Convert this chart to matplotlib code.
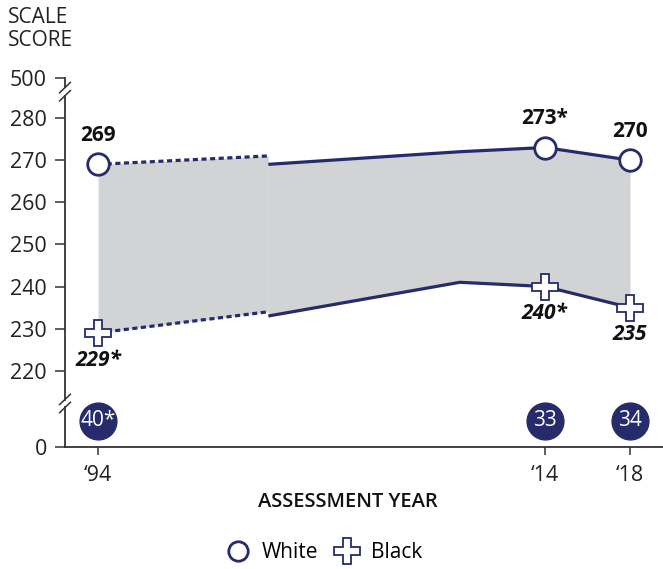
import numpy as np
import matplotlib
matplotlib.use("Agg")
import matplotlib.pyplot as plt
from matplotlib.lines import Line2D

plt.rcParams["font.family"] = ["Open Sans", "DejaVu Sans"]

# scores, accommodations not permitted (dashed part)
years_na = [1994, 2001]
white_na = [269, 271]
black_na = [229, 234]

# scores, accommodations permitted (solid part)
years = [2001, 2010, 2014, 2018]
white = [269, 272, 273, 270]
black = [233, 241, 240, 235]

# years that get markers and labels
mark_years = [1994, 2014, 2018]
white_marked = [269, 273, 270]
black_marked = [229, 240, 235]
white_labels = ["269", "273*", "270"]
black_labels = ["229*", "240*", "235"]
gaps = ["40*", "33", "34"]

x_ticks = [1994, 2014, 2018]
x_ticklabels = ["\u201894", "\u201814", "\u201818"]
y_ticks = [0, 220, 230, 240, 250, 260, 270, 280, 500]

NAVY = "#262B6B"
GRAY = "#D1D3D4"


# x axis: 1994-2001 stretched a bit wider than the later years
def x_fwd(v):
    v = np.asarray(v, dtype=float)
    return np.where(v < 2001, 2001 + (v - 2001) * 1.1435, v)


def x_inv(v):
    v = np.asarray(v, dtype=float)
    return np.where(v < 2001, 2001 + (v - 2001) / 1.1435, v)


# y axis: broken, 0-220 and 280-500 squeezed
def y_fwd(v):
    v = np.asarray(v, dtype=float)
    return np.where(v > 280, 280 + (v - 280) * 9.5 / 220,
                    np.where(v < 220, 220 - (220 - v) * 18.1 / 220, v))


def y_inv(v):
    v = np.asarray(v, dtype=float)
    return np.where(v > 280, 280 + (v - 280) * 220 / 9.5,
                    np.where(v < 220, 220 - (220 - v) * 220 / 18.1, v))


fig = plt.figure(figsize=(6.63, 5.69), dpi=100)
ax = fig.add_axes([65 / 663, 122 / 569, 598 / 663, 369 / 569])
ax.set_xscale("function", functions=(x_fwd, x_inv))
ax.set_yscale("function", functions=(y_fwd, y_inv))
ax.set_xlim(1992.64, 2019.55)
ax.set_ylim(0, 500)

ax.fill_between(years_na, white_na, black_na, color=GRAY, lw=0)
ax.fill_between(years, white, black, color=GRAY, lw=0)

ax.plot(years_na, white_na, color=NAVY, lw=2.3, dashes=(1.6, 1.1))
ax.plot(years_na, black_na, color=NAVY, lw=2.3, dashes=(1.6, 1.1))
ax.plot(years, white, color=NAVY, lw=2.3, solid_capstyle="butt")
ax.plot(years, black, color=NAVY, lw=2.3, solid_capstyle="butt")

ax.plot(mark_years, white_marked, "o", ms=15.5, mfc="white", mec=NAVY, mew=2, zorder=5)
ax.plot(mark_years, black_marked, "P", ms=19, mfc="white", mec=NAVY, mew=1.3, zorder=5)

for x, y, t in zip(mark_years, white_marked, white_labels):
    ax.annotate(t, (x, y), xytext=(0, 13), textcoords="offset points",
                ha="center", va="bottom", fontsize=15, fontweight="bold", color="#111111")
for x, y, t in zip(mark_years, black_marked, black_labels):
    ax.annotate(t, (x, y), xytext=(0, -12), textcoords="offset points",
                ha="center", va="top", fontsize=15, fontweight="bold",
                fontstyle="italic", color="#111111")

# score gaps
gap_tr = ax.get_xaxis_transform()
for x, t in zip(mark_years, gaps):
    ax.plot([x], [0.0705], "o", ms=26.5, mfc=NAVY, mec=NAVY, transform=gap_tr,
            clip_on=False, zorder=5)
    ax.text(x, 0.0705, t, transform=gap_tr, ha="center", va="center",
            fontsize=15, color="white", zorder=6)

# axes and breaks
for s in ["top", "right", "left"]:
    ax.spines[s].set_visible(False)
ax.spines["bottom"].set_color("#333333")
ax.spines["bottom"].set_linewidth(1.3)
for lo, hi in [(0, 0.108), (0.128, 0.95), (0.976, 1.0)]:
    ax.plot([0, 0], [lo, hi], color="#333333", lw=1.3, transform=ax.transAxes,
            clip_on=False)
for yc in [0.118, 0.963]:
    for dy in [-0.011, 0.011]:
        ax.plot([-0.009, 0.009], [yc + dy - 0.014, yc + dy + 0.014], color="#333333",
                lw=1.1, transform=ax.transAxes, clip_on=False)

ax.set_yticks(y_ticks)
ax.set_yticklabels([str(v) for v in y_ticks])
ax.set_xticks(x_ticks)
ax.set_xticklabels(x_ticklabels)
ax.minorticks_off()
ax.tick_params(axis="y", length=7, width=1.1, pad=6, labelsize=15.5, color="#333333",
               labelcolor="#222222")
ax.tick_params(axis="x", length=6, width=1.1, pad=7, labelsize=15.5, color="#333333",
               labelcolor="#222222")

fig.text(8 / 663, 1 - 7 / 569, "SCALE\nSCORE", ha="left", va="top", fontsize=15,
         linespacing=1.1, color="#222222")
fig.text(348 / 663, 1 - 502 / 569, "ASSESSMENT YEAR", ha="center", va="center",
         fontsize=14.5, fontweight="semibold", color="#111111")

handles = [
    Line2D([], [], ls="none", marker="o", ms=14, mfc="white", mec=NAVY, mew=2, label="White"),
    Line2D([], [], ls="none", marker="P", ms=19, mfc="white", mec=NAVY, mew=1.3, label="Black"),
]
fig.legend(handles=handles, loc="center", bbox_to_anchor=(324 / 663, 1 - 553 / 569),
           ncol=2, frameon=False, fontsize=15, handletextpad=0.55, columnspacing=0.8,
           handlelength=1.2)

fig.savefig("out.png", dpi=100)
